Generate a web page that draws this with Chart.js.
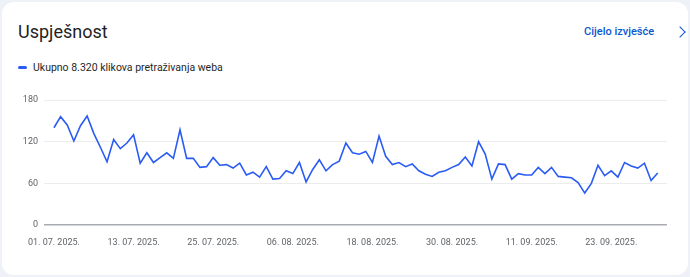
<!DOCTYPE html>
<html>
<head>
<meta charset="utf-8">
<script src="https://cdn.jsdelivr.net/npm/chart.js@4.4.1/dist/chart.umd.min.js"></script>
<style>
  html, body { margin: 0; padding: 0; }
  body { width: 690px; height: 277px; background: #eef2f8; font-family: Roboto, "Noto Sans", sans-serif; position: relative; overflow: hidden; }
  .card { position: absolute; left: 2px; top: 2px; width: 686px; height: 273px; background: #fff; border-radius: 12px; }
  .title { position: absolute; left: 18px; top: 21px; font-size: 18px; color: #1f1f1f; }
  .link { position: absolute; left: 584px; top: 25px; font-size: 11px; font-weight: 500; color: #0b57d0; }
  .chev { position: absolute; left: 676px; top: 28px; width: 7px; height: 7px; border-right: 1.5px solid #0b57d0; border-top: 1.5px solid #0b57d0; transform: rotate(45deg); }
  .legend { position: absolute; left: 18px; top: 61px; font-size: 10.5px; color: #1f1f1f; }
  .legend .dash { display: inline-block; width: 9px; height: 3px; border-radius: 2px; background: #2a5cf4; vertical-align: middle; margin-right: 6px; position: relative; top: -1px; }
  .chart-box { position: absolute; left: 0; top: 85px; width: 690px; height: 170px; }
</style>
</head>
<body>
<div class="card"></div>
<div class="title">Uspješnost</div>
<div class="link">Cijelo izvješće</div>
<div class="chev"></div>
<div class="legend"><span class="dash"></span>Ukupno 8.320 klikova pretraživanja weba</div>
<div class="chart-box"><canvas id="perfChart" width="690" height="170"></canvas></div>

<script>
// ===== Data (daily clicks, 01.07.2025 - 30.09.2025) =====
const clicks = [
    140, 156, 144, 121, 143, 157, 132, 112, 91, 123,
    110, 118, 130, 89, 104, 90, 97, 104, 96, 137,
    96, 96, 83, 84, 97, 86, 87, 82, 89, 72,
    76, 69, 84, 66, 67, 78, 74, 90, 62, 80,
    94, 78, 87, 92, 118, 104, 102, 106, 90, 128,
    99, 87, 90, 84, 88, 78, 73, 70, 76, 78,
    83, 87, 98, 85, 120, 102, 66, 88, 87, 66,
    74, 72, 72, 83, 74, 83, 70, 69, 68, 61,
    46, 60, 86, 71, 78, 69, 90, 85, 82, 89,
    64, 75
];
const tickDays = [0, 12, 24, 36, 48, 60, 72, 84];
const tickLabels = ['01. 07. 2025.', '13. 07. 2025.', '25. 07. 2025.', '06. 08. 2025.',
                    '18. 08. 2025.', '30. 08. 2025.', '11. 09. 2025.', '23. 09. 2025.'];
const yTicks = [0, 60, 120, 180];

const LINE_BLUE = '#2a5cf4';
const TICK_GRAY = '#5f6368';

const points = clicks.map((v, i) => ({ x: i, y: v }));

new Chart(document.getElementById('perfChart'), {
    type: 'line',
    data: {
        datasets: [{
            label: 'Klikovi',
            data: points,
            borderColor: LINE_BLUE,
            borderWidth: 1.6,
            pointRadius: 0,
            tension: 0,
            fill: false
        }]
    },
    options: {
        responsive: false,
        animation: false,
        layout: { padding: { left: 0, right: 23, top: 15, bottom: 0 } },
        plugins: {
            legend: { display: false },
            tooltip: { enabled: false }
        },
        scales: {
            x: {
                type: 'linear',
                min: -1.5,
                max: 92.4,
                grid: { display: false, drawTicks: false },
                border: { display: false },
                afterBuildTicks: (scale) => {
                    scale.ticks = tickDays.map(v => ({ value: v }));
                },
                afterFit: (scale) => { scale.height = 30; },
                ticks: {
                    autoSkip: false,
                    maxRotation: 0,
                    padding: 12,
                    color: TICK_GRAY,
                    font: { family: 'Roboto', size: 9 },
                    callback: (value) => tickLabels[tickDays.indexOf(value)] || ''
                }
            },
            y: {
                min: 0,
                max: 180,
                afterBuildTicks: (scale) => {
                    scale.ticks = yTicks.map(v => ({ value: v }));
                },
                afterFit: (scale) => { scale.width = 44; },
                border: { display: false },
                grid: {
                    drawTicks: false,
                    color: (ctx) => ctx.tick && ctx.tick.value === 0 ? '#a8abb0' : '#ececec',
                    lineWidth: (ctx) => ctx.tick && ctx.tick.value === 0 ? 1.5 : 1
                },
                ticks: {
                    padding: 6,
                    color: TICK_GRAY,
                    font: { family: 'Roboto', size: 9 }
                }
            }
        }
    }
});
</script>
</body>
</html>
